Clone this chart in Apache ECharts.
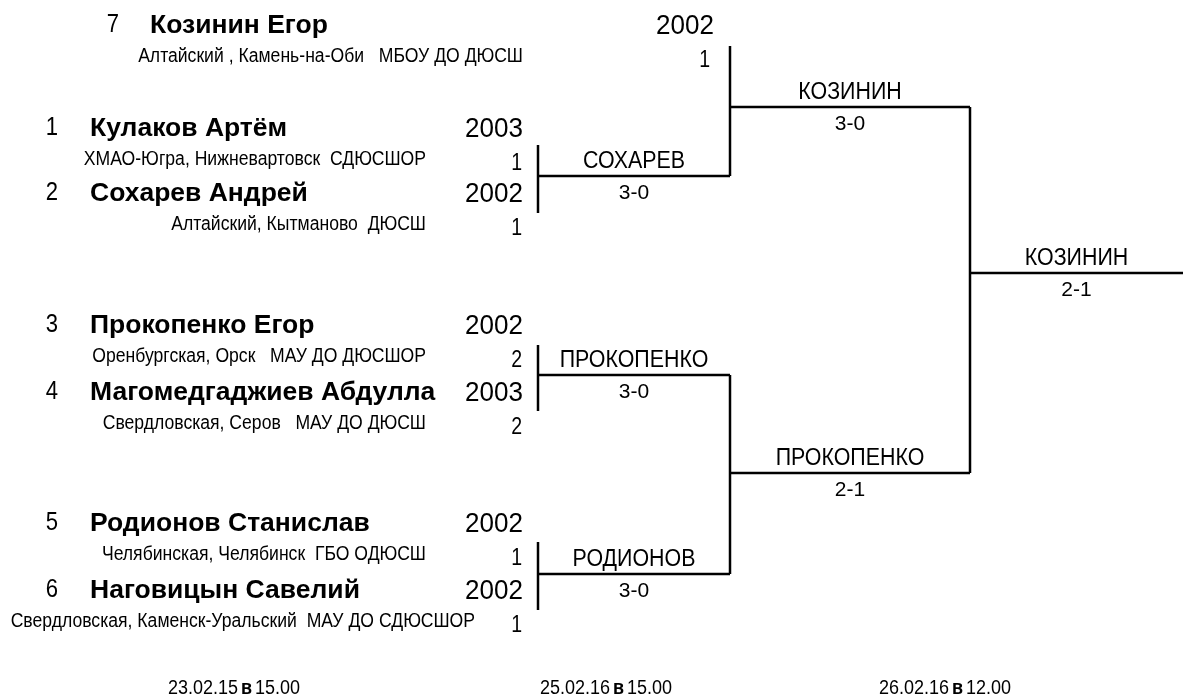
<!DOCTYPE html>
<html>
<head>
<meta charset="utf-8">
<script src="https://cdn.jsdelivr.net/npm/echarts@6/dist/echarts.min.js"></script>
<style>
  html, body { margin: 0; padding: 0; background: #ffffff; }
  #chart { width: 1183px; height: 699px; }
</style>
</head>
<body>
<div id="chart"></div>
<script>
// ---------------- DATA ----------------
const seeds   = ['7', '1', '2', '3', '4', '5', '6'];
const names   = ['Козинин Егор', 'Кулаков Артём', 'Сохарев Андрей', 'Прокопенко Егор',
                 'Магомедгаджиев Абдулла', 'Родионов Станислав', 'Наговицын Савелий'];
const years   = ['2002', '2003', '2002', '2002', '2003', '2002', '2002'];
const regions = ['Алтайский , Камень-на-Оби   МБОУ ДО ДЮСШ',
                 'ХМАО-Югра, Нижневартовск  СДЮСШОР',
                 'Алтайский, Кытманово  ДЮСШ',
                 'Оренбургская, Орск   МАУ ДО ДЮСШОР',
                 'Свердловская, Серов   МАУ ДО ДЮСШ',
                 'Челябинская, Челябинск  ГБО ОДЮСШ',
                 'Свердловская, Каменск-Уральский  МАУ ДО СДЮСШОР'];
const groups  = ['1', '1', '1', '2', '2', '1', '1'];

// matches: entries are player indices (p) or match indices (m)
const matchRounds  = [0, 0, 0, 1, 1, 2];
const matchEntries = [['p1', 'p2'], ['p3', 'p4'], ['p5', 'p6'], ['p0', 'm0'], ['m1', 'm2'], ['m3', 'm4']];
const matchWinners = ['СОХАРЕВ', 'ПРОКОПЕНКО', 'РОДИОНОВ', 'КОЗИНИН', 'ПРОКОПЕНКО', 'КОЗИНИН'];
const matchScores  = ['3-0', '3-0', '3-0', '3-0', '2-1', '2-1'];

const roundDates = [['23.02.15', 'в', '15.00'], ['25.02.16', 'в', '15.00'], ['26.02.16', 'в', '12.00']];

// ---------------- LAYOUT ----------------
const W = 1183, H = 699;
const colX = [538, 730, 970, 1183];
const nameY = [25, 128, 193, 325, 392, 523, 590];
const seedX = [113, 52, 52, 52, 52, 52, 52];
const nameX = [150, 90, 90, 90, 90, 90, 90];
const yearX = [714, 523, 523, 523, 523, 523, 523];
const regionX = [523, 426, 426, 426, 426, 426, 475];
const groupX = [710, 522, 522, 522, 522, 522, 522];
const entryY = [46, 145, 213, 345, 411, 542, 610];
const matchOutY = [176, 375, 574, 107, 473, 273];
const dateX = [234, 606, 945];
const dateY = 688;

const FONT = "'Liberation Sans', Arial, sans-serif";

function entryPoint(e) {
  const idx = +e.slice(1);
  return e[0] === 'p' ? entryY[idx] : matchOutY[idx];
}

// connector segments
const segs = [];
matchEntries.forEach((ent, m) => {
  const r = matchRounds[m];
  const x = colX[r];
  segs.push([[x, entryPoint(ent[0])], [x, entryPoint(ent[1])]]);
  segs.push([[x, matchOutY[m]], [colX[r + 1], matchOutY[m]]]);
});

// text items
const texts = [];
for (let i = 0; i < names.length; i++) {
  texts.push({ x: seedX[i], y: nameY[i], text: seeds[i], size: 26, weight: 'normal', align: 'center', sx: 0.85 });
  texts.push({ x: nameX[i], y: nameY[i] + 1, text: names[i], size: 25, weight: 'bold', align: 'left', sx: 1.06 });
  texts.push({ x: yearX[i], y: nameY[i] + 1, text: years[i], size: 28, weight: 'normal', align: 'right', sx: 0.93 });
  texts.push({ x: regionX[i], y: nameY[i] + 31, text: regions[i], size: 20, weight: 'normal', align: 'right', sx: 0.88 });
  texts.push({ x: groupX[i], y: nameY[i] + 36, text: groups[i], size: 23, weight: 'normal', align: 'right', sx: 0.85 });
}
matchEntries.forEach((ent, m) => {
  const r = matchRounds[m];
  const cx = (colX[r] + colX[r + 1]) / 2;
  texts.push({ x: cx, y: matchOutY[m] - 14, text: matchWinners[m], size: 23, weight: 'normal', align: 'center', sx: 0.93 });
  texts.push({ x: cx, y: matchOutY[m] + 17, text: matchScores[m], size: 21, weight: 'normal', align: 'center', sx: 1.0 });
});

const option = {
  backgroundColor: '#ffffff',
  animation: false,
  grid: { left: 0, right: 0, top: 0, bottom: 0 },
  xAxis: { type: 'value', min: 0, max: W, show: false },
  yAxis: { type: 'value', min: 0, max: H, inverse: true, show: false },
  series: [
    {
      type: 'custom',
      data: segs.map(s => [s[0][0], s[0][1], s[1][0], s[1][1]]),
      renderItem: function (params, api) {
        const p1 = api.coord([api.value(0), api.value(1)]);
        const p2 = api.coord([api.value(2), api.value(3)]);
        return {
          type: 'line',
          shape: { x1: p1[0], y1: p1[1], x2: p2[0], y2: p2[1] },
          style: { stroke: '#000', lineWidth: 2.5 }
        };
      }
    },
    {
      type: 'custom',
      data: texts.map(t => [t.x, t.y]),
      renderItem: function (params, api) {
        const t = texts[params.dataIndex];
        const p = api.coord([api.value(0), api.value(1)]);
        return {
          type: 'text',
          x: p[0], y: p[1], scaleX: t.sx,
          style: {
            text: t.text, fill: '#000',
            font: t.weight + ' ' + t.size + 'px ' + FONT,
            textAlign: t.align, textVerticalAlign: 'middle'
          }
        };
      }
    },
    {
      type: 'custom',
      data: roundDates.map((d, i) => [dateX[i], dateY]),
      renderItem: function (params, api) {
        const d = roundDates[params.dataIndex];
        const p = api.coord([api.value(0), api.value(1)]);
        return {
          type: 'text',
          x: p[0], y: p[1], scaleX: 0.9,
          style: {
            text: '{n|' + d[0] + '} {b|' + d[1] + '} {n|' + d[2] + '}',
            textAlign: 'center', textVerticalAlign: 'middle',
            rich: {
              n: { fontFamily: FONT, fontSize: 20, color: '#000' },
              b: { fontFamily: FONT, fontSize: 20, fontWeight: 'bold', color: '#000' }
            }
          }
        };
      }
    }
  ]
};

const chart = echarts.init(document.getElementById('chart'), null, { renderer: 'canvas' });
chart.setOption(option);
</script>
</body>
</html>
